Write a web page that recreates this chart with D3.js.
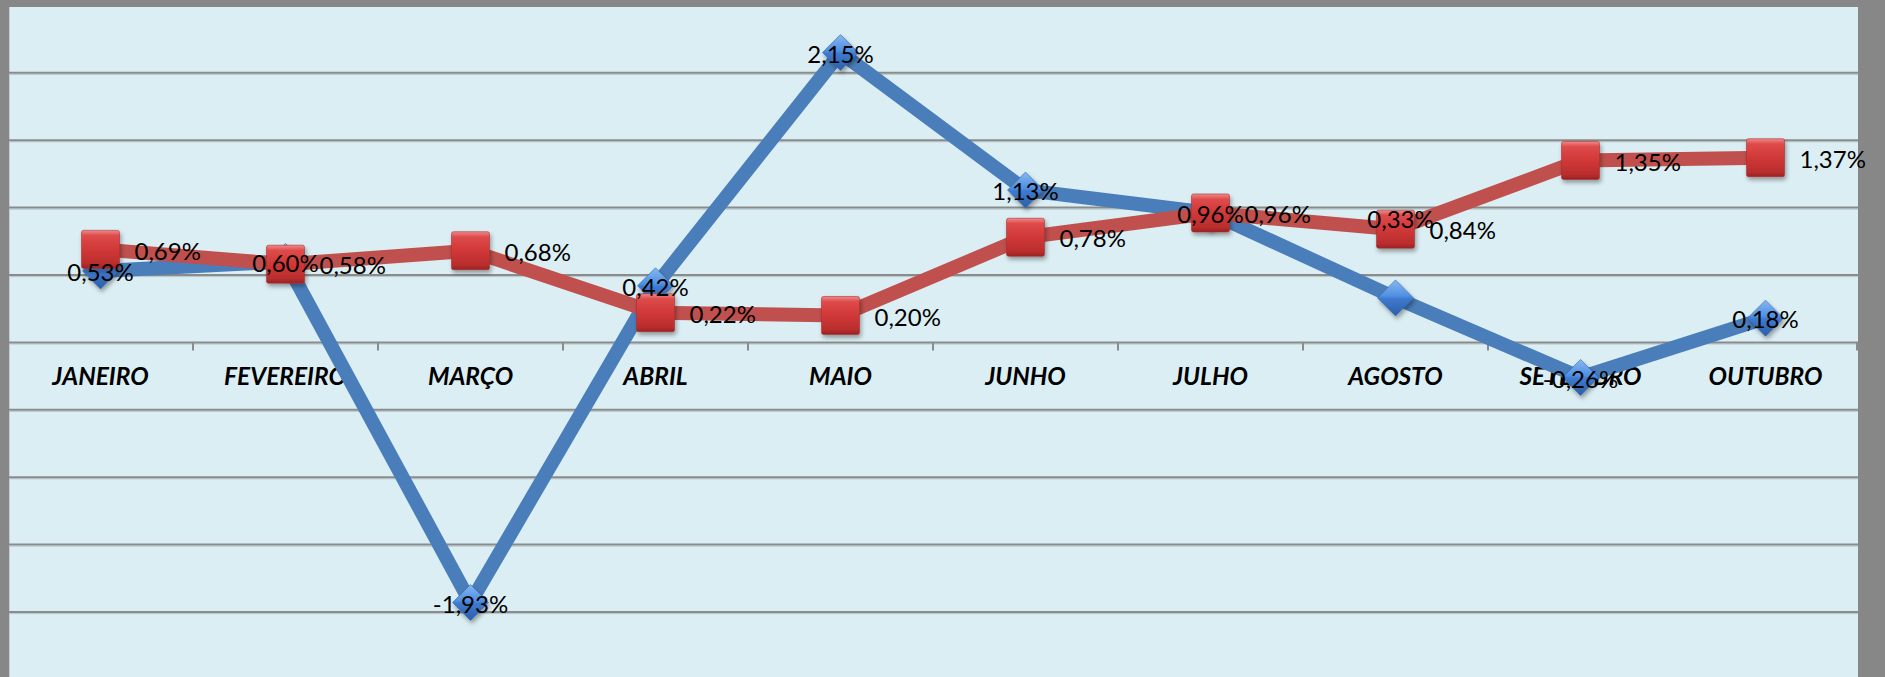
<!DOCTYPE html>
<html>
<head>
<meta charset="utf-8">
<script src="https://cdn.jsdelivr.net/npm/d3@7"></script>
<style>
  html, body { margin: 0; padding: 0; background: #878787; overflow: hidden; }
  svg { display: block; }
</style>
</head>
<body>
<div id="chart"></div>
<script>
const meses = ['JANEIRO', 'FEVEREIRO', 'MARÇO', 'ABRIL', 'MAIO', 'JUNHO', 'JULHO', 'AGOSTO', 'SETEMBRO', 'OUTUBRO'];
const serieAzul = [0.53, 0.60, -1.93, 0.42, 2.15, 1.13, 0.96, 0.33, -0.26, 0.18];
const serieVermelha = [0.69, 0.58, 0.68, 0.22, 0.20, 0.78, 0.96, 0.84, 1.35, 1.37];
const gradeY = [-2, -1.5, -1, -0.5, 0, 0.5, 1, 1.5, 2];

const width = 1885;
const height = 677;
const plot = { left: 9, top: 7, right: 1858 };

const ptBR = d3.formatLocale({ decimal: ',', thousands: '.', grouping: [3], currency: ['R$', ''], minus: '-' });
const fmt = (v) => ptBR.format('.2f')(v) + '%';

const svg = d3.select('#chart')
    .append('svg')
    .attr('width', width)
    .attr('height', height);

const defs = svg.append('defs');

const gradRed = defs.append('linearGradient')
    .attr('id', 'grad-red')
    .attr('x1', 0).attr('y1', 0).attr('x2', 0).attr('y2', 1);
[['0%', '#f08a8a'], ['14%', '#de4a4a'], ['50%', '#d13838'], ['88%', '#b92d2d'], ['100%', '#982323']]
    .forEach(([o, c]) => gradRed.append('stop').attr('offset', o).attr('stop-color', c));

const gradBlue = defs.append('linearGradient')
    .attr('id', 'grad-blue')
    .attr('x1', 0).attr('y1', 0).attr('x2', 0).attr('y2', 1);
[['0%', '#86b8f2'], ['45%', '#4f8fe2'], ['52%', '#3f7acf'], ['100%', '#2c5ea8']]
    .forEach(([o, c]) => gradBlue.append('stop').attr('offset', o).attr('stop-color', c));

defs.append('filter')
    .attr('id', 'shadow')
    .attr('x', '-50%').attr('y', '-50%').attr('width', '200%').attr('height', '200%')
    .append('feDropShadow')
    .attr('dx', 1.5)
    .attr('dy', 3)
    .attr('stdDeviation', 2)
    .attr('flood-color', '#000')
    .attr('flood-opacity', 0.35);

// plot area
svg.append('rect')
    .attr('x', plot.left)
    .attr('y', plot.top)
    .attr('width', plot.right - plot.left)
    .attr('height', height - plot.top)
    .attr('fill', '#dbeef3');

svg.append('line')
    .attr('x1', plot.left + 0.5).attr('x2', plot.left + 0.5)
    .attr('y1', plot.top).attr('y2', height)
    .attr('stroke', '#c3cdd0')
    .attr('stroke-width', 1);

const x = d3.scaleBand()
    .domain(meses)
    .range([8, plot.right])
    .padding(0);

const y = d3.scaleLinear()
    .domain([-2.5, 2.5])
    .range([679.4, 5.4]);

const cx = (i) => x(meses[i]) + x.bandwidth() / 2;

// grid lines
const grid = svg.append('g');
grid.selectAll('.grid-light')
    .data(gradeY)
    .join('line')
    .attr('class', 'grid-light')
    .attr('x1', plot.left)
    .attr('x2', plot.right)
    .attr('y1', d => y(d) + 1.6)
    .attr('y2', d => y(d) + 1.6)
    .attr('stroke', '#b4c7cb')
    .attr('stroke-width', 1);
grid.selectAll('.grid')
    .data(gradeY)
    .join('line')
    .attr('class', 'grid')
    .attr('x1', plot.left)
    .attr('x2', plot.right)
    .attr('y1', d => y(d))
    .attr('y2', d => y(d))
    .attr('stroke', '#8b8b8b')
    .attr('stroke-width', 2);

// x axis (labels) at zero
const xAxis = svg.append('g')
    .attr('transform', `translate(0,${y(0)})`)
    .call(d3.axisBottom(x).tickSize(0).tickPadding(0));
xAxis.select('.domain').remove();
xAxis.selectAll('text')
    .attr('y', 43)
    .attr('dy', 0)
    .attr('fill', '#000')
    .style('font-family', 'Lato, "Open Sans", sans-serif')
    .style('font-size', '24.5px')
    .style('font-weight', 'bold')
    .style('font-style', 'italic');

// category boundary ticks
const bounds = meses.slice(1).map(m => x(m)).concat([plot.right - 1]);
xAxis.selectAll('.bound')
    .data(bounds)
    .join('line')
    .attr('class', 'bound')
    .attr('x1', d => d)
    .attr('x2', d => d)
    .attr('y1', 0)
    .attr('y2', 8)
    .attr('stroke', '#8b8b8b')
    .attr('stroke-width', 2);

const line = d3.line()
    .x((d, i) => cx(i))
    .y(d => y(d));

// blue series
svg.append('path')
    .datum(serieAzul)
    .attr('d', line)
    .attr('fill', 'none')
    .attr('stroke', '#4a7ebb')
    .attr('stroke-width', 14)
    .attr('stroke-linejoin', 'round');

const half = 18;
svg.append('g')
    .selectAll('path')
    .data(serieAzul)
    .join('path')
    .attr('d', (d, i) => {
        const px = cx(i), py = y(d);
        return `M${px},${py - half}L${px + half},${py}L${px},${py + half}L${px - half},${py}Z`;
    })
    .attr('fill', 'url(#grad-blue)')
    .attr('stroke', '#3466a8')
    .attr('stroke-width', 0.6)
    .attr('filter', 'url(#shadow)');

// red series
svg.append('path')
    .datum(serieVermelha)
    .attr('d', line)
    .attr('fill', 'none')
    .attr('stroke', '#c0504d')
    .attr('stroke-width', 14)
    .attr('stroke-linejoin', 'round');

const side = 38;
svg.append('g')
    .selectAll('rect')
    .data(serieVermelha)
    .join('rect')
    .attr('x', (d, i) => cx(i) - side / 2)
    .attr('y', d => y(d) - side / 2)
    .attr('width', side)
    .attr('height', side)
    .attr('rx', 2)
    .attr('fill', 'url(#grad-red)')
    .attr('stroke', '#a83030')
    .attr('stroke-width', 0.6)
    .attr('filter', 'url(#shadow)');

// data labels
const labelFont = (sel) => sel
    .style('font-family', 'Lato, "Open Sans", sans-serif')
    .style('font-size', '24px')
    .attr('fill', '#000');

// one blue label was dragged up in the original
const nudge = { 7: [5, -80] };

svg.append('g')
    .selectAll('text')
    .data(serieAzul)
    .join('text')
    .attr('x', (d, i) => cx(i) + (nudge[i] ? nudge[i][0] : 0))
    .attr('y', (d, i) => y(d) + 1.5 + (nudge[i] ? nudge[i][1] : 0))
    .attr('dy', '0.36em')
    .attr('text-anchor', 'middle')
    .text(d => fmt(d))
    .call(labelFont);

svg.append('g')
    .selectAll('text')
    .data(serieVermelha)
    .join('text')
    .attr('x', (d, i) => cx(i) + 34)
    .attr('y', d => y(d) + 1.5)
    .attr('dy', '0.36em')
    .attr('text-anchor', 'start')
    .text(d => fmt(d))
    .call(labelFont);
</script>
</body>
</html>
